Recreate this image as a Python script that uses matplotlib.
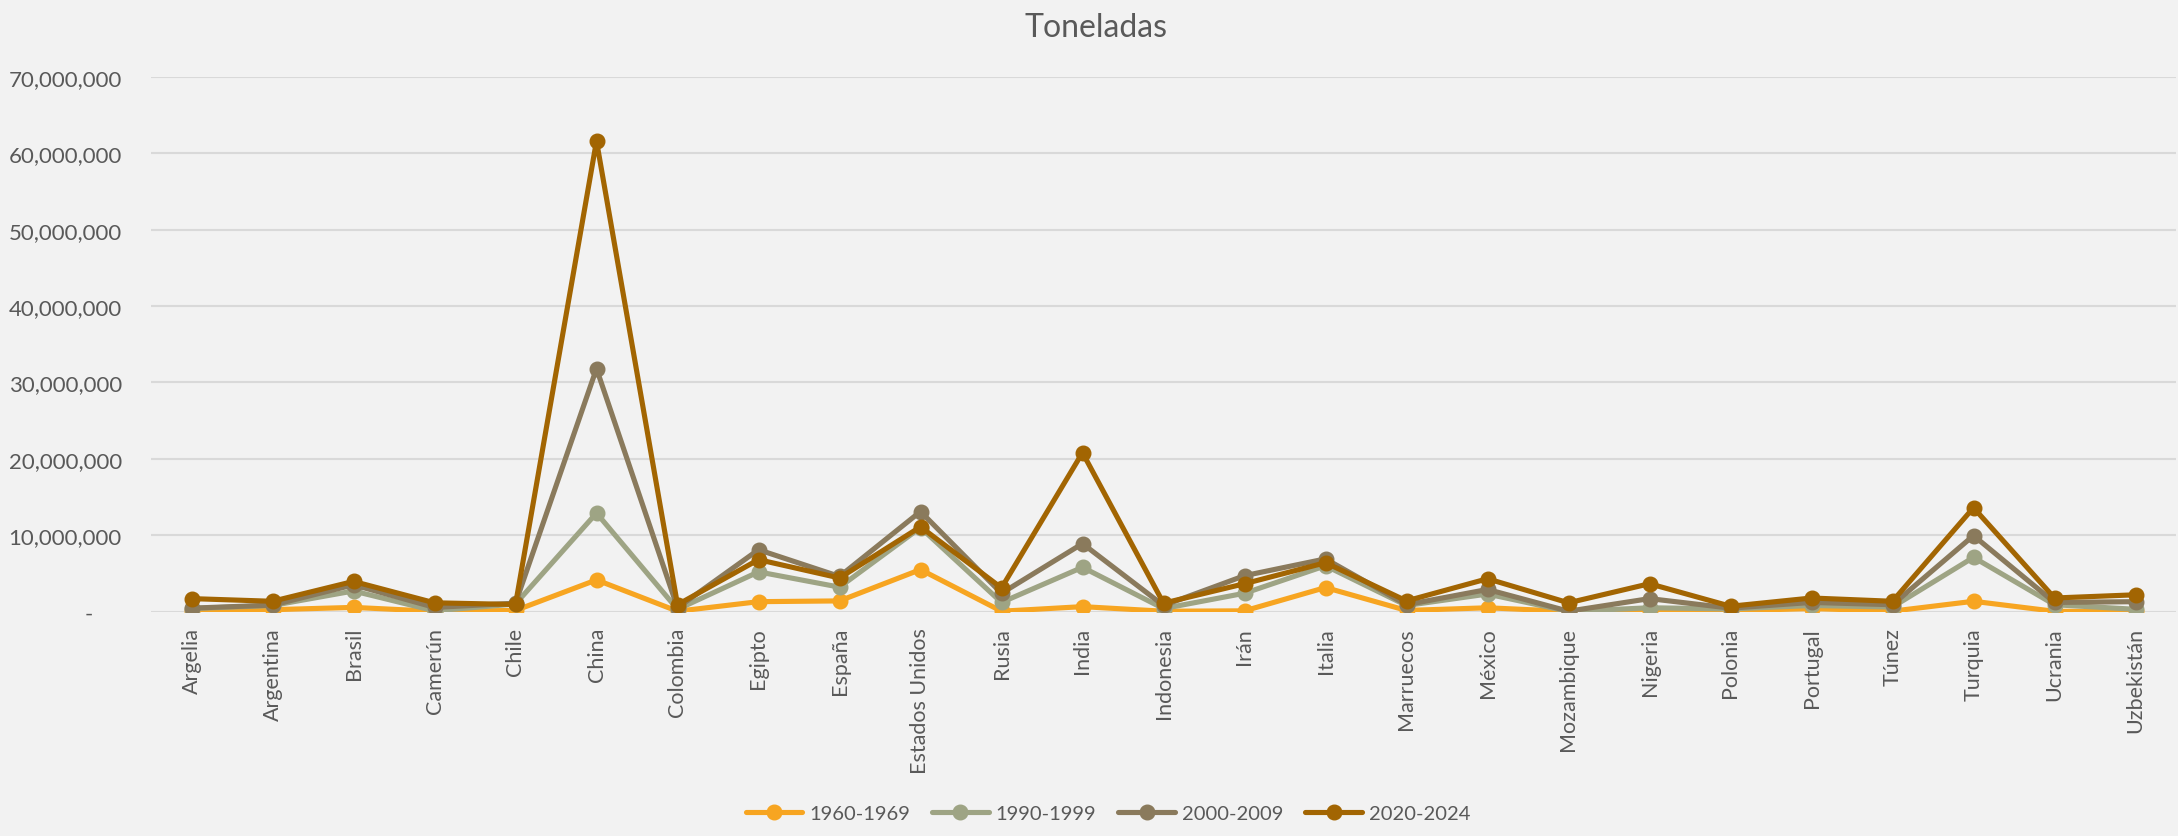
import matplotlib.pyplot as plt
from matplotlib.ticker import FuncFormatter

# data (toneladas)
paises = ['Argelia', 'Argentina', 'Brasil', 'Camerún', 'Chile', 'China', 'Colombia',
          'Egipto', 'España', 'Estados Unidos', 'Rusia', 'India', 'Indonesia', 'Irán',
          'Italia', 'Marruecos', 'México', 'Mozambique', 'Nigeria', 'Polonia',
          'Portugal', 'Túnez', 'Turquia', 'Ucrania', 'Uzbekistán']

d1960 = [100000, 250000, 550000, 40000, 150000, 4150000, 50000, 1300000, 1400000,
         5500000, 50000, 650000, 50000, 100000, 3150000, 150000, 500000, 20000,
         50000, 100000, 400000, 60000, 1350000, 40000, 20000]
d1990 = [400000, 800000, 2700000, 100000, 1000000, 12900000, 300000, 5200000, 3200000,
         11000000, 1200000, 5800000, 400000, 2400000, 6000000, 800000, 2300000, 20000,
         500000, 350000, 800000, 600000, 7100000, 900000, 300000]
d2000 = [450000, 850000, 3500000, 550000, 1100000, 31800000, 500000, 8100000, 4600000,
         13100000, 2400000, 8900000, 800000, 4700000, 6900000, 900000, 2900000, 50000,
         1700000, 450000, 1200000, 900000, 9950000, 1200000, 1300000]
d2020 = [1700000, 1350000, 3950000, 1150000, 930000, 61600000, 900000, 6800000, 4400000,
         11100000, 3100000, 20800000, 1100000, 3650000, 6400000, 1400000, 4300000, 1150000,
         3650000, 700000, 1780000, 1350000, 13600000, 1780000, 2200000]

series = [('1960-1969', d1960, '#F7A521'),
          ('1990-1999', d1990, '#9EA484'),
          ('2000-2009', d2000, '#8A7A5C'),
          ('2020-2024', d2020, '#A26502')]

plt.rcParams['font.family'] = ['Lato', 'DejaVu Sans']
txt = '#595959'
bg = '#F2F2F2'

fig = plt.figure(figsize=(21.78, 8.37), dpi=100, facecolor=bg)
ax = fig.add_axes([151/2178, 1 - 612.6/837, 2025/2178, (612.6 - 77.8)/837])
ax.set_facecolor(bg)

x = range(len(paises))
for name, vals, col in series:
    ax.plot(x, vals, color=col, lw=3.7, marker='o', ms=10.5, label=name,
            solid_capstyle='round', zorder=3)

ax.set_xlim(-0.5, len(paises) - 0.5)
ax.set_ylim(0, 70000000)
ax.set_yticks(range(0, 70000001, 10000000))
ax.yaxis.set_major_formatter(FuncFormatter(
    lambda v, p: '-     ' if v == 0 else f'{int(v):,}'))
ax.grid(axis='y', color='#D9D9D9', lw=1.5, zorder=0)
ax.set_xticks(list(x))
ax.set_xticklabels(paises, rotation=90, fontsize=15.5, color=txt, va='top', ha='center')
for s in ax.spines.values():
    s.set_visible(False)
ax.tick_params(axis='both', length=0)
ax.tick_params(axis='y', labelsize=16, labelcolor=txt, pad=21)
ax.tick_params(axis='x', pad=11)

fig.text(0.503, 1 - 28/837, 'Toneladas', ha='center', va='center', fontsize=23, color=txt)

leg = fig.legend(loc='center', bbox_to_anchor=(1108/2178, 1 - 814/837), ncol=4,
                 frameon=False, fontsize=14.5, handlelength=2.8, columnspacing=1.1,
                 handletextpad=0.35, labelcolor=txt)

fig.savefig('out.png', dpi=100, facecolor=bg)
